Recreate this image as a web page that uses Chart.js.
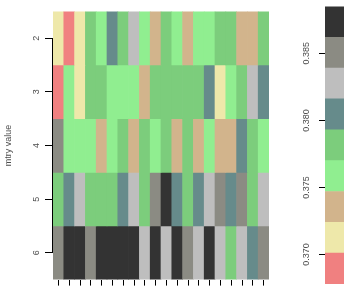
<!DOCTYPE html>
<html>
<head>
<meta charset="utf-8">
<script src="https://cdn.jsdelivr.net/npm/chart.js@4/dist/chart.umd.min.js"></script>
<style>
  body { margin: 0; background: #fff; }
  #heat { position: absolute; left: 0; top: 0; }
  #key { position: absolute; left: 280px; top: 0; }
</style>
</head>
<body>
<canvas id="heat" width="280" height="291"></canvas>
<canvas id="key" width="68" height="291"></canvas>
<script>
// rows of the grid (mtry) and the 20 unlabelled columns
const mtryValues = [2, 3, 4, 5, 6];
const columnLabels = ['1', '2', '3', '4', '5', '6', '7', '8', '9', '10',
  '11', '12', '13', '14', '15', '16', '17', '18', '19', '20'];

// accuracy, one array per mtry row
const mtry2 = [0.3713, 0.3690, 0.3711, 0.3782, 0.3760, 0.3803, 0.3779, 0.3826, 0.3757, 0.3736,
  0.3784, 0.3756, 0.3733, 0.3759, 0.3762, 0.3780, 0.3778, 0.3737, 0.3734, 0.3781];
const mtry3 = [0.3693, 0.3761, 0.3714, 0.3785, 0.3783, 0.3758, 0.3763, 0.3755, 0.3738, 0.3779,
  0.3786, 0.3782, 0.3777, 0.3784, 0.3806, 0.3716, 0.3759, 0.3781, 0.3829, 0.3802];
const mtry4 = [0.3849, 0.3762, 0.3758, 0.3764, 0.3737, 0.3756, 0.3783, 0.3735, 0.3780, 0.3761,
  0.3778, 0.3739, 0.3785, 0.3734, 0.3757, 0.3736, 0.3738, 0.3805, 0.3779, 0.3760];
const mtry5 = [0.3783, 0.3807, 0.3824, 0.3780, 0.3786, 0.3782, 0.3803, 0.3828, 0.3781, 0.3851,
  0.3873, 0.3801, 0.3784, 0.3806, 0.3825, 0.3848, 0.3804, 0.3852, 0.3779, 0.3827];
const mtry6 = [0.3850, 0.3875, 0.3871, 0.3847, 0.3874, 0.3870, 0.3876, 0.3872, 0.3826, 0.3873,
  0.3823, 0.3877, 0.3853, 0.3829, 0.3871, 0.3824, 0.3785, 0.3827, 0.3805, 0.3849];
const rowValues = [mtry2, mtry3, mtry4, mtry5, mtry6];

// colour key: breaks, colours (low to high) and tick labels
const levelBreaks = [0.3678, 0.3701, 0.3724, 0.3747, 0.3770, 0.3793, 0.3816, 0.3839, 0.3862, 0.3885];
const levelColors = ['#F08080', '#EEE8AA', '#D2B48C', '#90EE90', '#7CCD7C',
  '#668B8B', '#BEBEBE', '#8B8B83', '#333333'];
const keyTicks = [0.370, 0.375, 0.380, 0.385];

function colourFor(v) {
  for (let i = 0; i < levelColors.length; i++) {
    if (v < levelBreaks[i + 1]) return levelColors[i];
  }
  return levelColors[levelColors.length - 1];
}

const labelFont = { family: 'Liberation Sans', size: 9 };
const labelColor = '#4d4d4d';

// lattice-style axis line running from the first to the last tick only
const axisLine = {
  id: 'axisLine',
  afterDraw(chart) {
    const y = chart.scales.y;
    const ctx = chart.ctx;
    const top = y.getPixelForValue(mtryValues[0]);
    const bottom = y.getPixelForValue(mtryValues[mtryValues.length - 1]);
    ctx.save();
    ctx.strokeStyle = '#000';
    ctx.lineWidth = 1;
    ctx.beginPath();
    ctx.moveTo(y.right - 0.5, top);
    ctx.lineTo(y.right - 0.5, bottom);
    ctx.stroke();
    ctx.restore();
  }
};

new Chart(document.getElementById('heat'), {
  type: 'bar',
  data: {
    labels: columnLabels,
    datasets: mtryValues.map((m, r) => ({
      label: 'mtry ' + m,
      data: columnLabels.map(() => [m - 0.5, m + 0.5]),
      backgroundColor: rowValues[r].map(colourFor),
      borderWidth: 0,
      grouped: false,
      barPercentage: 1,
      categoryPercentage: 1
    }))
  },
  options: {
    responsive: false,
    animation: false,
    layout: { padding: { top: 4, right: 11, bottom: 1, left: 0 } },
    plugins: { legend: { display: false }, tooltip: { enabled: false } },
    scales: {
      x: {
        grid: { offset: false, drawOnChartArea: false, tickLength: 6, color: '#000' },
        border: { display: false },
        ticks: { display: false },
        afterFit(scale) { scale.height = 6; }
      },
      y: {
        type: 'linear',
        reverse: true,
        min: mtryValues[0] - 0.5,
        max: mtryValues[mtryValues.length - 1] + 0.5,
        afterBuildTicks(scale) { scale.ticks = mtryValues.map(v => ({ value: v })); },
        afterFit(scale) { scale.width = 53; },
        grid: { drawOnChartArea: false, tickLength: 8, color: '#000' },
        border: { display: false },
        ticks: {
          font: labelFont, color: labelColor, padding: 6,
          minRotation: 90, maxRotation: 90, crossAlign: 'center'
        },
        title: {
          display: true, text: 'mtry value',
          font: labelFont, color: labelColor,
          padding: { top: 3, bottom: 0 }
        }
      }
    }
  },
  plugins: [axisLine]
});

new Chart(document.getElementById('key'), {
  type: 'bar',
  data: {
    labels: ['key'],
    datasets: levelColors.map((c, i) => ({
      label: levelBreaks[i] + '-' + levelBreaks[i + 1],
      data: [[levelBreaks[i], levelBreaks[i + 1]]],
      backgroundColor: c,
      borderWidth: 0,
      grouped: false,
      barPercentage: 1,
      categoryPercentage: 1
    }))
  },
  options: {
    responsive: false,
    animation: false,
    layout: { padding: { top: 4, right: 4, bottom: 7, left: 0 } },
    plugins: { legend: { display: false }, tooltip: { enabled: false } },
    scales: {
      x: { display: false },
      y: {
        type: 'linear',
        min: levelBreaks[0],
        max: levelBreaks[levelBreaks.length - 1],
        afterBuildTicks(scale) { scale.ticks = keyTicks.map(v => ({ value: v })); },
        afterFit(scale) { scale.width = 45; },
        grid: { drawOnChartArea: false, tickLength: 6, color: '#000' },
        border: { display: false },
        ticks: {
          font: labelFont, color: labelColor, padding: 1,
          minRotation: 90, maxRotation: 90, crossAlign: 'center',
          callback: v => v.toFixed(3)
        }
      }
    }
  }
});
</script>
</body>
</html>
